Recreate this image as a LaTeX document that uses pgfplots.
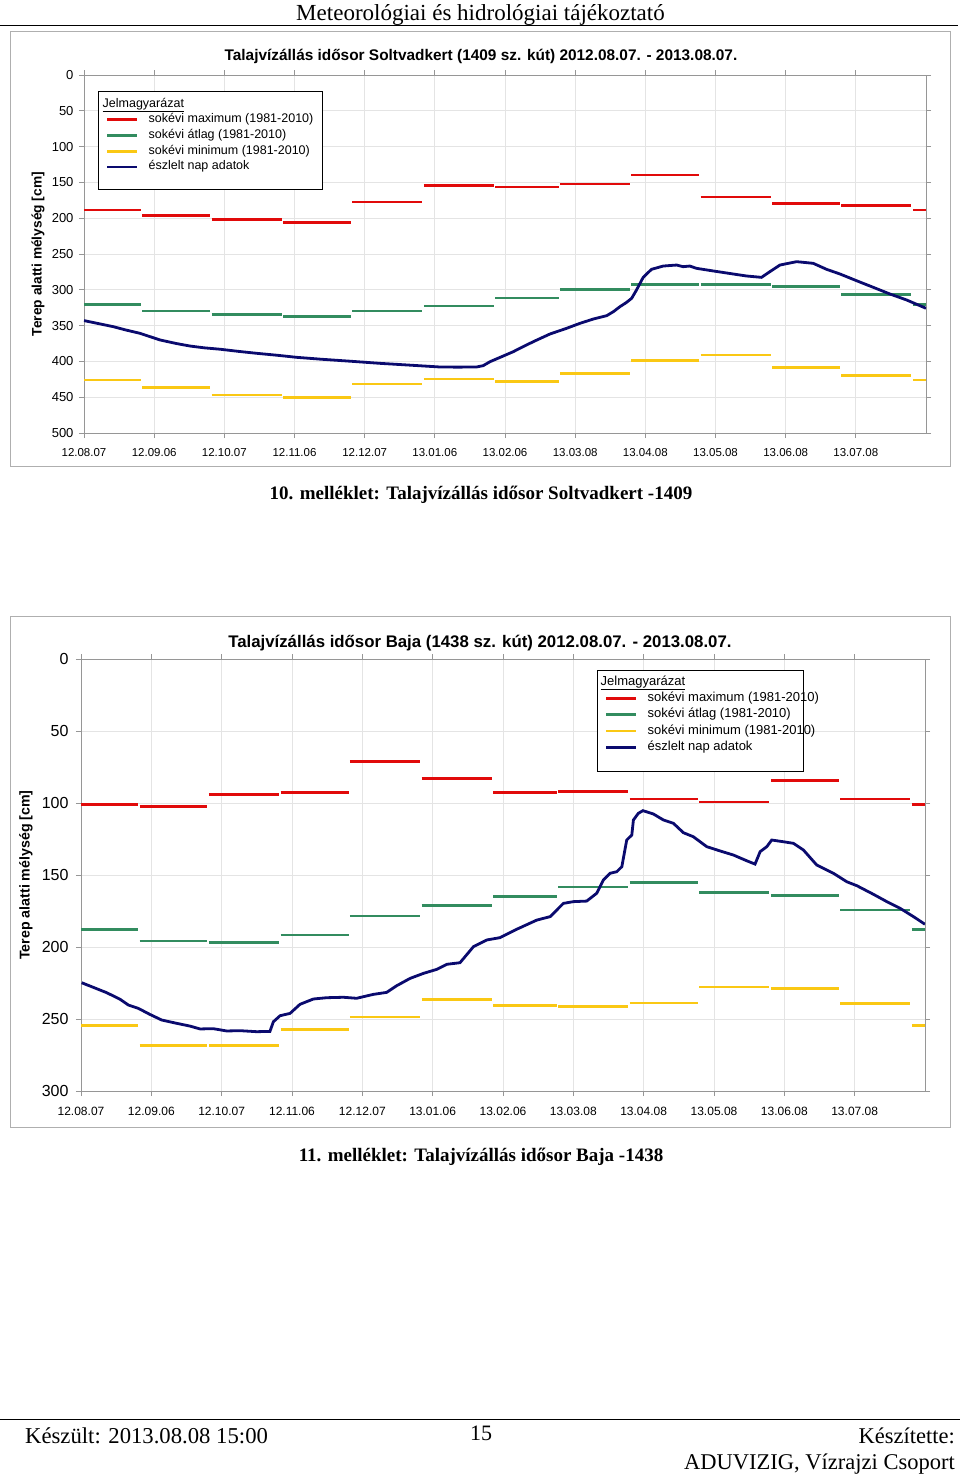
\documentclass[border=0pt]{standalone}
\usepackage{fontspec}
\setmainfont{Liberation Sans}
\newfontfamily\seriffont{Liberation Serif}
\usepackage{pgfplots}
\usepackage{pgfplotstable}
\pgfplotsset{compat=1.18}
\definecolor{cmax}{RGB}{225,10,10}
\definecolor{cavg}{RGB}{50,140,95}
\definecolor{cmin}{RGB}{250,200,20}
\definecolor{cobs}{RGB}{10,10,110}
\definecolor{framec}{RGB}{175,175,175}
\definecolor{axl}{RGB}{150,150,150}
\definecolor{gridc}{RGB}{228,228,228}

% monthly long-term values, Soltvadkert 1409
\pgfplotstableread{
x max avg min
0.0   188.5 320.3 426.0
24.7  188.5 320.3 426.0
nan nan nan nan
25.3  196.5 329.6 436.7
54.7  196.5 329.6 436.7
nan nan nan nan
55.3  201.6 334.3 446.9
85.7  201.6 334.3 446.9
nan nan nan nan
86.3  206.2 337.5 450.7
115.7 206.2 337.5 450.7
nan nan nan nan
116.3 177.4 329.6 431.5
146.7 177.4 329.6 431.5
nan nan nan nan
147.3 154.6 322.6 424.6
177.7 154.6 322.6 424.6
nan nan nan nan
178.3 156.4 311.4 428.3
205.7 156.4 311.4 428.3
nan nan nan nan
206.3 152.2 299.3 417.2
236.7 152.2 299.3 417.2
nan nan nan nan
237.3 139.7 292.4 398.5
266.7 139.7 292.4 398.5
nan nan nan nan
267.3 170.4 292.4 391.0
297.7 170.4 292.4 391.0
nan nan nan nan
298.3 179.2 295.6 408.2
327.7 179.2 295.6 408.2
nan nan nan nan
328.3 182.5 306.8 419.4
358.7 182.5 306.8 419.4
nan nan nan nan
359.3 188.5 320.3 426.0
365.0 188.5 320.3 426.0
}\segA

\pgfplotstableread{
x y
0 343
6 347
12.7 351.5
18 356
24.3 360.8
32.9 370
40 375
45.9 378.5
52 381
59 383
67 386
74.9 388.7
84 391.5
92.2 394.3
103 397
113.9 399.4
121 401
128.3 402.7
135 404
142.7 405.5
154.3 407.8
162 408
170.2 407.8
173 406
176 400.4
181 393.5
186.1 386.4
190 380
194.8 372.4
202 361.7
209.2 353.8
215 346.8
220.8 340.8
226.6 336.1
229.5 330.5
232.3 323.6
235 318
237.4 311.9
239.5 300.3
242.4 282.6
246 271.4
251.1 266.8
256.9 265.4
259.7 267.7
262.6 266.8
265.5 270
272.8 273.7
281.4 277.9
287.2 280.7
293.7 282.6
297.3 274.7
301.7 265.4
308.9 260.7
316.1 263
321.9 271.4
327.7 277.9
334.9 287.3
342.1 296.5
349.4 305.9
356.6 314.2
365 325.8
}\obsA

% monthly long-term values, Baja 1438
\pgfplotstableread{
x max avg min
0.0   100.9 187.7 254.4
24.7  100.9 187.7 254.4
nan nan nan nan
25.3  102.5 195.8 268.5
54.7  102.5 195.8 268.5
nan nan nan nan
55.3  94.0 197.0 268.5
85.7  94.0 197.0 268.5
nan nan nan nan
86.3  92.8 191.7 257.4
115.7 92.8 191.7 257.4
nan nan nan nan
116.3 71.3 178.5 248.6
146.7 71.3 178.5 248.6
nan nan nan nan
147.3 83.1 171.3 236.3
177.7 83.1 171.3 236.3
nan nan nan nan
178.3 92.7 164.8 240.5
205.7 92.7 164.8 240.5
nan nan nan nan
206.3 92.1 158.3 241.4
236.7 92.1 158.3 241.4
nan nan nan nan
237.3 97.2 155.1 238.9
266.7 97.2 155.1 238.9
nan nan nan nan
267.3 99.3 162.3 227.8
297.7 99.3 162.3 227.8
nan nan nan nan
298.3 84.3 164.1 228.7
327.7 84.3 164.1 228.7
nan nan nan nan
328.3 97.2 174.3 239.4
358.7 97.2 174.3 239.4
nan nan nan nan
359.3 101.1 187.7 254.6
365.0 101.1 187.7 254.6
}\segB

\pgfplotstableread{
x y
0.3 224.8
5.3 228
11.1 231.7
16.9 236.3
20.5 240.3
24.8 242.6
29.8 246.8
34.9 250.7
41.4 253
47.1 254.9
51.5 256.9
57.2 256.7
63 258.3
68.8 258.1
76 258.8
81.7 258.6
83.2 251.9
86.1 247.7
90.4 246.1
94.7 239.8
100.5 236.1
106.3 235.2
113.5 234.9
119.2 235.6
126.4 232.9
132.2 231.5
136.5 226.9
142.3 221.8
148.1 218.3
153.9 215.5
158.2 212
163.9 210.9
169.7 199.8
175.5 195.1
181.2 193.5
188.4 187.7
197.1 181.3
202.9 178.9
208.6 169.7
212.9 168.5
218.7 168.1
223 162.7
225.9 153.5
228.8 148.8
231.7 147.7
233.9 144.2
236 125.7
238.2 122.2
238.9 111.8
241 107.2
243 105.3
247.5 107.6
251.9 111.8
256.2 114.1
260.5 120.6
264.8 123.4
270.6 130.3
276.4 133.3
282.1 136.1
287.9 140.1
291.5 142.4
293.7 133.8
296.6 130.3
298.7 125.7
303.8 126.9
308.1 128
312.4 132.6
318.2 143.1
325.4 148.8
331.2 154.7
335.5 157.4
342.7 163.4
348.5 168.5
354.2 173.1
360 178.9
365 184.2
}\obsB

\pgfplotsset{
  gwchart/.style={
    scale only axis,
    xmin=0, xmax=365,
    y dir=reverse,
    xtick={0,30.4167,60.8333,91.25,121.6667,152.0833,182.5,212.9167,243.3333,273.75,304.1667,334.5833},
    xticklabels={12.08.07,12.09.06,12.10.07,12.11.06,12.12.07,13.01.06,13.02.06,13.03.08,13.04.08,13.05.08,13.06.08,13.07.08},
    grid=major, grid style={gridc, line width=0.7pt},
    axis line style={axl, line width=0.9pt},
    tick style={axl, line width=0.9pt},
    tick align=outside, major tick length=5pt,
    unbounded coords=jump,
    legend cell align=left,
    legend image code/.code={\draw[##1,line width=2.8pt] (0pt,0pt) -- (30pt,0pt);},
    every axis plot/.append style={line width=2.8pt},
  }
}

\begin{document}
\begin{tikzpicture}
\useasboundingbox (0pt,0pt) rectangle (960pt,-1475pt);

% page header
\node[anchor=base] at (480.5pt,-20pt) {\seriffont\fontsize{23}{27}\selectfont Meteorológiai és hidrológiai tájékoztató};
\draw[line width=1.5pt] (0pt,-25.5pt) -- (958pt,-25.5pt);

% chart frames
\draw[framec, line width=1pt] (10pt,-31pt) rectangle (950pt,-466pt);
\draw[framec, line width=1pt] (10pt,-616pt) rectangle (950pt,-1127pt);

% ---------------- chart 1 ----------------
\begin{axis}[gwchart,
  at={(505pt,-254pt)}, anchor=center,
  width=842pt, height=358pt,
  ymin=0, ymax=500,
  ytick={0,50,100,150,200,250,300,350,400,450,500},
  yticklabels={0,50,100,150,200,250,300,350,400,450,500},
  yticklabel style={font=\fontsize{13}{15}\selectfont, anchor=east, xshift=-2pt},
  xticklabel style={font=\fontsize{11.5}{13}\selectfont, yshift=-7pt},
  title={Talajvízállás idősor Soltvadkert (1409 sz. kút) 2012.08.07. - 2013.08.07.},
  title style={font=\bfseries\fontsize{15.4}{18}\selectfont, at={(axis description cs:0.4715,1.0587)}, anchor=center, yshift=-8pt},
  ylabel={Terep alatti mélység [cm]},
  ylabel style={font=\bfseries\fontsize{13.75}{16}\selectfont, at={(axis description cs:-0.0546,0.5)}, anchor=center},
  legend style={at={(axis description cs:0.01663,0.9553)}, anchor=north west,
    draw=black, line width=0.8pt, fill=white,
    inner xsep=7.5pt, inner ysep=6.75pt, row sep=3.7pt, column sep=10pt,
    nodes={inner sep=0pt, text height=9pt, text depth=3pt, font=\fontsize{12.5}{14}\selectfont}},
]
\addlegendimage{empty legend}
\addlegendentry{\hspace*{-46pt}\underline{Jelmagyarázat}}
\addplot[cmax] table[x=x,y=max] {\segA};
\addlegendentry{\makebox[166.5pt][l]{sokévi maximum (1981-2010)}}
\addplot[cavg] table[x=x,y=avg] {\segA};
\addlegendentry{\makebox[166.5pt][l]{sokévi átlag (1981-2010)}}
\addplot[cmin] table[x=x,y=min] {\segA};
\addlegendentry{\makebox[166.5pt][l]{sokévi minimum (1981-2010)}}
\addplot[cobs] table[x=x,y=y] {\obsA};
\addlegendentry{\makebox[166.5pt][l]{észlelt nap adatok}}
\addlegendimage{empty legend}
\addlegendentry[text height=0pt, text depth=6pt]{}
\end{axis}

\node[anchor=base] at (481pt,-499pt) {\seriffont\bfseries\fontsize{19}{22}\selectfont 10. melléklet: Talajvízállás idősor Soltvadkert -1409};

% ---------------- chart 2 ----------------
\begin{axis}[gwchart,
  at={(503pt,-875pt)}, anchor=center,
  width=844pt, height=432pt,
  ymin=0, ymax=300,
  ytick={0,50,100,150,200,250,300},
  yticklabels={0,50,100,150,200,250,300},
  yticklabel style={font=\fontsize{16}{18}\selectfont, anchor=east, xshift=-4pt},
  xticklabel style={font=\fontsize{12}{14}\selectfont, yshift=-8pt},
  title={Talajvízállás idősor Baja (1438 sz. kút) 2012.08.07. - 2013.08.07.},
  title style={font=\bfseries\fontsize{16.8}{19}\selectfont, at={(axis description cs:0.4727,1.0417)}, anchor=center, yshift=-8pt},
  ylabel={Terep alatti mélység [cm]},
  ylabel style={font=\bfseries\fontsize{14.2}{16}\selectfont, at={(axis description cs:-0.0652,0.5)}, anchor=center},
  legend style={at={(axis description cs:0.6114,0.9745)}, anchor=north west,
    draw=black, line width=0.8pt, fill=white,
    inner xsep=7.5pt, inner ysep=5.5pt, row sep=3.8pt, column sep=10pt,
    nodes={inner sep=0pt, text height=9.4pt, text depth=3.1pt, font=\fontsize{13}{15}\selectfont}},
]
\addlegendimage{empty legend}
\addlegendentry{\hspace*{-47pt}\underline{Jelmagyarázat}}
\addplot[cmax] table[x=x,y=max] {\segB};
\addlegendentry{\makebox[148.5pt][l]{sokévi maximum (1981-2010)}}
\addplot[cavg] table[x=x,y=avg] {\segB};
\addlegendentry{\makebox[148.5pt][l]{sokévi átlag (1981-2010)}}
\addplot[cmin] table[x=x,y=min] {\segB};
\addlegendentry{\makebox[148.5pt][l]{sokévi minimum (1981-2010)}}
\addplot[cobs] table[x=x,y=y] {\obsB};
\addlegendentry{\makebox[148.5pt][l]{észlelt nap adatok}}
\addlegendimage{empty legend}
\addlegendentry[text height=0pt, text depth=8.5pt]{}
\end{axis}

\node[anchor=base] at (481pt,-1161pt) {\seriffont\bfseries\fontsize{19}{22}\selectfont 11. melléklet: Talajvízállás idősor Baja -1438};

% page footer
\draw[line width=1pt] (0pt,-1419pt) -- (960pt,-1419pt);
\node[anchor=base west, inner sep=0pt] at (25pt,-1443pt) {\seriffont\fontsize{22.7}{26}\selectfont Készült: 2013.08.08 15:00};
\node[anchor=base, inner sep=0pt] at (481pt,-1440pt) {\seriffont\fontsize{22}{26}\selectfont 15};
\node[anchor=base east, inner sep=0pt] at (955pt,-1443pt) {\seriffont\fontsize{22.5}{26}\selectfont Készítette:};
\node[anchor=base east, inner sep=0pt] at (955pt,-1469pt) {\seriffont\fontsize{22.5}{26}\selectfont ADUVIZIG, Vízrajzi Csoport};
\end{tikzpicture}
\end{document}
